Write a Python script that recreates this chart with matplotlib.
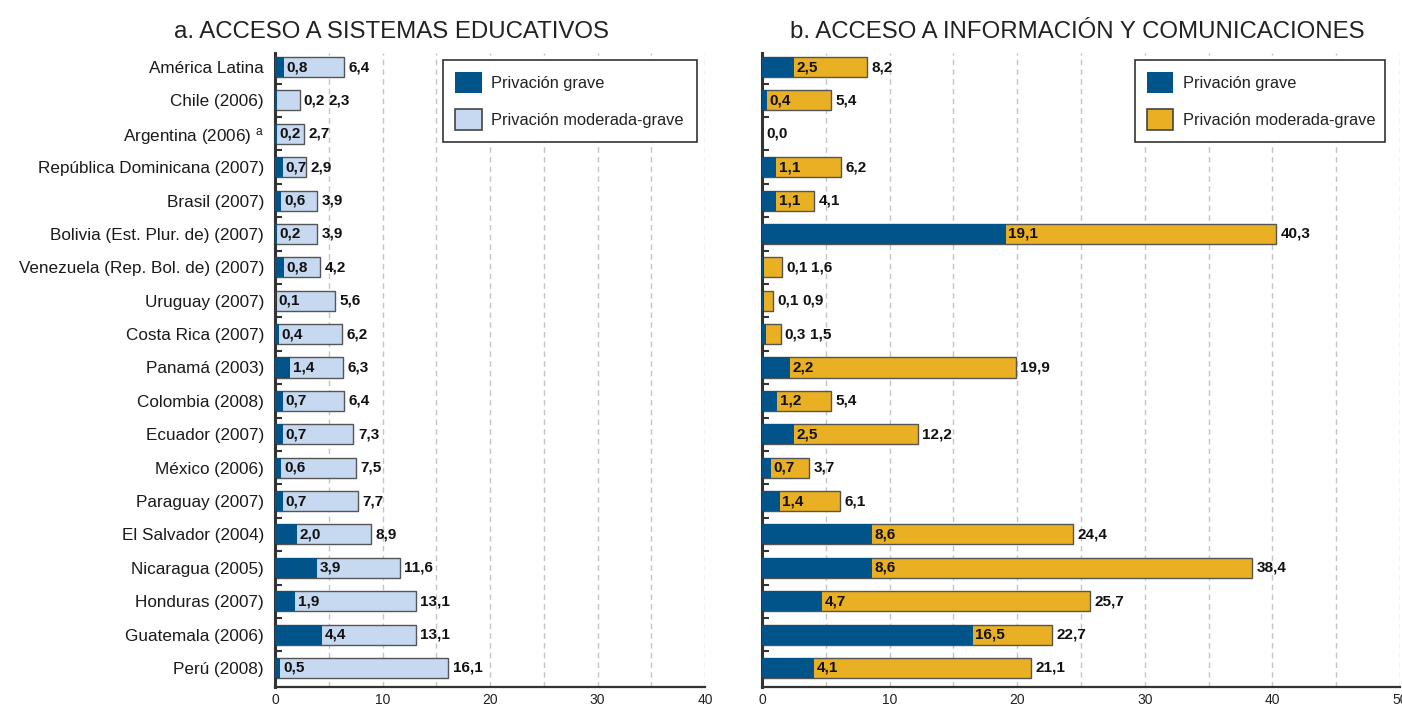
import matplotlib
matplotlib.use("Agg")
import matplotlib.pyplot as plt
from matplotlib.patches import Patch
import numpy as np

plt.rcParams['font.family'] = ['Liberation Sans', 'DejaVu Sans']
plt.rcParams['mathtext.default'] = 'regular'

# ---------------- data ----------------
categories = [
    "América Latina", "Chile (2006)", "Argentina (2006) $^{a}$",
    "República Dominicana (2007)", "Brasil (2007)",
    "Bolivia (Est. Plur. de) (2007)", "Venezuela (Rep. Bol. de) (2007)",
    "Uruguay (2007)", "Costa Rica (2007)", "Panamá (2003)",
    "Colombia (2008)", "Ecuador (2007)", "México (2006)",
    "Paraguay (2007)", "El Salvador (2004)", "Nicaragua (2005)",
    "Honduras (2007)", "Guatemala (2006)", "Perú (2008)",
]

edu_grave = [0.8, 0.2, 0.2, 0.7, 0.6, 0.2, 0.8, 0.1, 0.4, 1.4,
             0.7, 0.7, 0.6, 0.7, 2.0, 3.9, 1.9, 4.4, 0.5]
edu_moderate = [6.4, 2.3, 2.7, 2.9, 3.9, 3.9, 4.2, 5.6, 6.2, 6.3,
                6.4, 7.3, 7.5, 7.7, 8.9, 11.6, 13.1, 13.1, 16.1]

info_grave = [2.5, 0.4, 0.0, 1.1, 1.1, 19.1, 0.1, 0.1, 0.3, 2.2,
              1.2, 2.5, 0.7, 1.4, 8.6, 8.6, 4.7, 16.5, 4.1]
info_moderate = [8.2, 5.4, 0.0, 6.2, 4.1, 40.3, 1.6, 0.9, 1.5, 19.9,
                 5.4, 12.2, 3.7, 6.1, 24.4, 38.4, 25.7, 22.7, 21.1]

x_ticks_a = [0, 10, 20, 30, 40]
x_ticks_b = [0, 10, 20, 30, 40, 50]

title_a = "a. ACCESO A SISTEMAS EDUCATIVOS"
title_b = "b. ACCESO A INFORMACIÓN Y COMUNICACIONES"
legend_labels = ["Privación grave", "Privación moderada-grave"]

# ---------------- style ----------------
DARK = "#00548a"
LIGHT = "#c6d9f1"
GOLD = "#e8b022"
EDGE = "#555555"
SPINE = "#333333"
GRID = "#c4c4c4"

W, H, DPI = 14.02, 7.04, 100
fig = plt.figure(figsize=(W, H), dpi=DPI)

top_px, bot_px = 53, 687
ax_a = fig.add_axes([275 / 1402, 1 - bot_px / 704, 430 / 1402, (bot_px - top_px) / 704])
ax_b = fig.add_axes([762 / 1402, 1 - bot_px / 704, 638 / 1402, (bot_px - top_px) / 704])

y = np.arange(len(categories))
BAR_H = 0.6


def fmt(v):
    return f"{v:.1f}".replace(".", ",")


def setup(ax, xmax, ticks, show_labels):
    ax.set_xlim(0, xmax)
    ax.set_ylim(18.57, -0.42)
    for s in ("top", "right"):
        ax.spines[s].set_visible(False)
    ax.spines["left"].set_linewidth(2.2)
    ax.spines["left"].set_color(SPINE)
    ax.spines["bottom"].set_linewidth(1.6)
    ax.spines["bottom"].set_color(SPINE)
    for gx in np.arange(5, xmax + 0.1, 5):
        ax.axvline(gx, color=GRID, lw=1.0, dashes=(4, 3), zorder=0)
    ax.set_xticks(ticks)
    ax.set_xticklabels([str(t) for t in ticks])
    ax.tick_params(axis="x", length=0, pad=4, labelsize=10, colors="#222222")
    ax.set_xticks([xmax], minor=True)
    ax.tick_params(axis="x", which="minor", direction="in", length=6,
                   width=1.5, color=SPINE)
    ax.set_yticks(y)
    if show_labels:
        ax.set_yticklabels(categories)
    else:
        ax.set_yticklabels([])
    ax.tick_params(axis="y", length=0, pad=8, labelsize=12.3, colors="#1a1a1a")
    ax.set_yticks(y[:-1] + 0.5, minor=True)
    ax.tick_params(axis="y", which="minor", direction="in", length=5,
                   width=1.5, color=SPINE)


def bars(ax, grave, mod, mod_color):
    ax.barh(y, mod, height=BAR_H, color=mod_color, edgecolor=EDGE,
            linewidth=1.0, zorder=2)
    ax.barh(y, grave, height=BAR_H, color=DARK, edgecolor="none",
            linewidth=0, zorder=3)


setup(ax_a, 40, x_ticks_a, True)
setup(ax_b, 50, x_ticks_b, False)
bars(ax_a, edu_grave, edu_moderate, LIGHT)
bars(ax_b, info_grave, info_moderate, GOLD)

# legends
for ax, col, bbox in ((ax_a, LIGHT, (0.391, 0.5, 0.591, 0.489)),
                      (ax_b, GOLD, (0.584, 0.5, 0.392, 0.489))):
    handles = [Patch(facecolor=DARK, edgecolor="none"),
               Patch(facecolor=col, edgecolor="#444444", linewidth=1.2)]
    leg = ax.legend(handles, legend_labels, loc="upper left",
                    bbox_to_anchor=bbox, mode="expand", borderaxespad=0,
                    fontsize=11.8, handlelength=1.6, handleheight=1.6,
                    handletextpad=0.6, labelspacing=0.95, borderpad=0.75,
                    fancybox=False, framealpha=1, edgecolor="#333333")
    leg.get_frame().set_linewidth(1.2)
    for t in leg.get_texts():
        t.set_color("#222222")

# titles
fig.text(392 / 1402, 1 - 32 / 704, title_a, ha="center", va="center",
         fontsize=17.3, color="#222222")
fig.text(1077 / 1402, 1 - 32 / 704, title_b, ha="center", va="center",
         fontsize=17.3, color="#222222")

# value labels
fig.canvas.draw()
r = fig.canvas.get_renderer()
PAD_G = 1.8    # points after the grave bar
PAD_T = 3.2    # points after the total bar
GAP = 3.0      # points between two labels placed side by side
TOL = 1.9      # pixels
lab_kw = dict(textcoords="offset points", ha="left", va="center",
              fontsize=11, fontweight="bold", color="#111111", zorder=5)

for ax, grave, mod in ((ax_a, edu_grave, edu_moderate),
                       (ax_b, info_grave, info_moderate)):
    for i, (g, m) in enumerate(zip(grave, mod)):
        if m == 0:
            ax.annotate(fmt(m), xy=(m, i), xytext=(PAD_T, 0), **lab_kw)
            continue
        tg = ax.annotate(fmt(g), xy=(g, i), xytext=(PAD_G, 0), **lab_kw)
        bb = tg.get_window_extent(r)
        g_px = ax.transData.transform((g, i))[0]
        end_px = ax.transData.transform((m, i))[0]
        if end_px - g_px < bb.width + TOL:
            tg.xy = (m, i)
            tg.xyann = (PAD_T - 0.7, 0)
            w_pt = bb.width * 72.0 / DPI
            ax.annotate(fmt(m), xy=(m, i), xytext=(PAD_T - 0.7 + w_pt + GAP, 0), **lab_kw)
        else:
            ax.annotate(fmt(m), xy=(m, i), xytext=(PAD_T, 0), **lab_kw)

fig.savefig("out.png", dpi=DPI)
